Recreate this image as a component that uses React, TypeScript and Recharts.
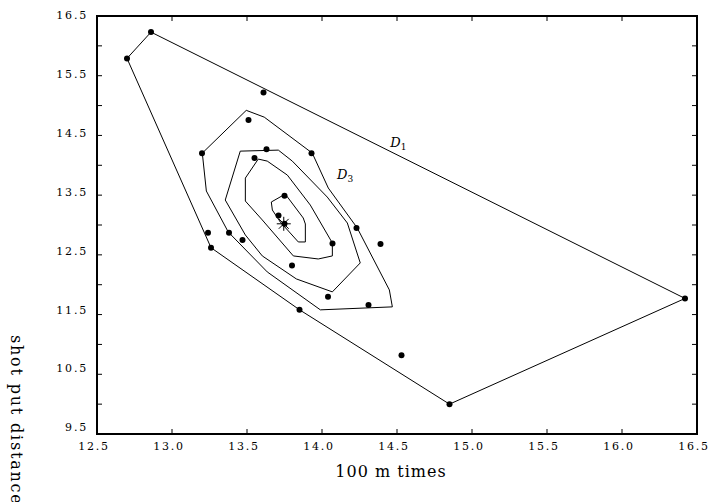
// Depth contours for 100 m times vs shot put distance
import { ScatterChart, Scatter, XAxis, YAxis, ReferenceArea, ReferenceDot } from 'recharts';

const FONT = '"DejaVu Serif", serif';

const xTicks = [12.5, 13.0, 13.5, 14.0, 14.5, 15.0, 15.5, 16.0, 16.5];
const yTicks = [9.5, 10.0, 10.5, 11.0, 11.5, 12.0, 12.5, 13.0, 13.5, 14.0, 14.5, 15.0, 15.5, 16.0, 16.5];
const yLabelled = [9.5, 10.5, 11.5, 12.5, 13.5, 14.5, 15.5, 16.5];

// athletes
const times = [12.70, 12.86, 13.61, 13.51, 13.20, 13.63, 13.93, 13.55, 13.75, 13.71, 13.75, 14.23, 14.39,
    14.07, 13.24, 13.38, 13.47, 13.26, 13.80, 14.04, 14.31, 13.85, 14.53, 14.85, 16.42];
const distances = [15.79, 16.23, 15.22, 14.76, 14.20, 14.27, 14.20, 14.12, 13.49, 13.16, 13.02, 12.95, 12.68,
    12.69, 12.87, 12.87, 12.75, 12.62, 12.32, 11.80, 11.66, 11.58, 10.82, 10.00, 11.77];

// convex hull (D1), as indices into the points
const hullIdx = [0, 1, 24, 23, 21, 17];

// inner depth contours
const contour2: [number, number][] = [
    [13.495, 14.92], [13.615, 14.806], [13.935, 14.204], [14.042, 13.619], [14.235, 12.95], [14.449, 11.913],
    [14.469, 11.629], [13.989, 11.579], [13.635, 12.214], [13.375, 12.883], [13.229, 13.569], [13.202, 14.204],
];
const contour3: [number, number][] = [
    [13.455, 14.237], [13.709, 14.254], [13.802, 14.07], [14.035, 13.468], [14.169, 13.033], [14.255, 12.365],
    [14.069, 11.88], [13.829, 12.097], [13.602, 12.482], [13.489, 12.833], [13.355, 13.418],
];
const contour4: [number, number][] = [
    [13.575, 14.104], [13.635, 14.07], [13.769, 13.836], [13.922, 13.334], [14.069, 12.699], [14.069, 12.482],
    [13.975, 12.431], [13.809, 12.482], [13.602, 13.084], [13.489, 13.401], [13.489, 13.786],
];
const contour5: [number, number][] = [
    [13.662, 13.385], [13.755, 13.518], [13.875, 13.117], [13.889, 13.017], [13.889, 12.716], [13.842, 12.716],
    [13.722, 13.05], [13.669, 13.251],
];

const median: [number, number] = [13.745, 13.02];

const points = times.map((t, i) => ({ x: t, y: distances[i] }));
const closed = (pts: [number, number][]) => [...pts, pts[0]].map(([x, y]) => ({ x, y }));
const hull = closed(hullIdx.map(i => [times[i], distances[i]] as [number, number]));
const corners = [{ x: 12.5, y: 9.5 }, { x: 16.5, y: 16.5 }];

const txt = { fontFamily: FONT, fill: '#000' };

const BottomTick = (p: any) => (
    <g>
        <line x1={p.x} y1={p.y} x2={p.x} y2={p.y - 5} stroke="#000" strokeWidth={1} />
        <text x={p.x - 3} y={p.y + 16} textAnchor="middle" fontSize={11} letterSpacing={1.8} {...txt}>
            {Number(p.payload.value).toFixed(1)}
        </text>
    </g>
);

const TopTick = (p: any) => (
    <line x1={p.x} y1={p.y} x2={p.x} y2={p.y + 5} stroke="#000" strokeWidth={1} />
);

const LeftTick = (p: any) => {
    const v = Number(p.payload.value);
    const shift = -1 - (16.5 - v) * 0.8;
    return (
        <g>
            <line x1={p.x} y1={p.y} x2={p.x + 5} y2={p.y} stroke="#000" strokeWidth={1} />
            {yLabelled.includes(v) && (
                <text x={p.x - 9} y={p.y + 4 + shift} textAnchor="end" fontSize={11} letterSpacing={1.8} {...txt}>
                    {v.toFixed(1)}
                </text>
            )}
        </g>
    );
};

const RightTick = (p: any) => (
    <line x1={p.x} y1={p.y} x2={p.x - 5} y2={p.y} stroke="#000" strokeWidth={1} />
);

const XTitle = () => (
    <text x={391} y={477} textAnchor="middle" fontSize={16} letterSpacing={1} {...txt}>100 m times</text>
);

const YTitle = () => (
    <text transform="translate(11,335) rotate(90)" fontSize={16} letterSpacing={1.8} {...txt}>shot put distance</text>
);

const dLabel = (sub: string) => (p: any) => (
    <text x={p.cx} y={p.cy} {...txt}>
        <tspan fontSize={13} fontStyle="italic">D</tspan>
        <tspan fontSize={9} dy={3}>{sub}</tspan>
    </text>
);

const Asterisk = (p: any) => {
    const r = 7;
    const angles = [0, 45, 90, 135];
    return (
        <g>
            {angles.map(a => {
                const dx = r * Math.cos((a * Math.PI) / 180);
                const dy = r * Math.sin((a * Math.PI) / 180);
                return <line key={a} x1={p.cx - dx} y1={p.cy - dy} x2={p.cx + dx} y2={p.cy + dy} stroke="#000" strokeWidth={1} />;
            })}
        </g>
    );
};

const Dot = (p: any) => <circle cx={p.cx} cy={p.cy} r={3} fill="#000" />;
const NoDot = () => <g />;

const lineStyle = { stroke: '#000', strokeWidth: 1 };

export default function App() {
    return (
        <div style={{ position: 'absolute', left: 0, top: 0, background: '#fff' }}>
            <ScatterChart width={710} height={502} margin={{ top: 15, right: 12, bottom: 38, left: 37 }}>
                <XAxis
                    type="number"
                    dataKey="x"
                    domain={[12.5, 16.5]}
                    ticks={xTicks}
                    allowDataOverflow
                    axisLine={false}
                    tickLine={false}
                    tickSize={0}
                    tickMargin={0}
                    tick={<BottomTick />}
                    height={30}
                    interval={0}
                    label={<XTitle />}
                />
                <XAxis
                    xAxisId="top"
                    orientation="top"
                    type="number"
                    dataKey="x"
                    domain={[12.5, 16.5]}
                    ticks={xTicks}
                    allowDataOverflow
                    axisLine={false}
                    tickLine={false}
                    tickSize={0}
                    tickMargin={0}
                    tick={<TopTick />}
                    height={1}
                    interval={0}
                />
                <YAxis
                    type="number"
                    dataKey="y"
                    domain={[9.5, 16.5]}
                    ticks={yTicks}
                    allowDataOverflow
                    axisLine={false}
                    tickLine={false}
                    tickSize={0}
                    tickMargin={0}
                    tick={<LeftTick />}
                    width={60}
                    interval={0}
                    label={<YTitle />}
                />
                <YAxis
                    yAxisId="right"
                    orientation="right"
                    type="number"
                    dataKey="y"
                    domain={[9.5, 16.5]}
                    ticks={yTicks}
                    allowDataOverflow
                    axisLine={false}
                    tickLine={false}
                    tickSize={0}
                    tickMargin={0}
                    tick={<RightTick />}
                    width={1}
                    interval={0}
                />
                <Scatter xAxisId="top" yAxisId="right" data={corners} shape={NoDot} isAnimationActive={false} />
                <ReferenceArea x1={12.5} x2={16.5} y1={9.5} y2={16.5} fill="none" stroke="#000" strokeWidth={2} />
                <Scatter data={hull} line={lineStyle} lineType="joint" shape={NoDot} isAnimationActive={false} />
                <Scatter data={closed(contour2)} line={lineStyle} lineType="joint" shape={NoDot} isAnimationActive={false} />
                <Scatter data={closed(contour3)} line={lineStyle} lineType="joint" shape={NoDot} isAnimationActive={false} />
                <Scatter data={closed(contour4)} line={lineStyle} lineType="joint" shape={NoDot} isAnimationActive={false} />
                <Scatter data={closed(contour5)} line={lineStyle} lineType="joint" shape={NoDot} isAnimationActive={false} />
                <Scatter data={points} shape={Dot} isAnimationActive={false} />
                <Scatter data={[{ x: median[0], y: median[1] }]} shape={Asterisk} isAnimationActive={false} />
                <ReferenceDot x={14.455} y={14.3} r={0} shape={dLabel('1')} />
                <ReferenceDot x={14.1} y={13.764} r={0} shape={dLabel('3')} />
            </ScatterChart>
        </div>
    );
}
